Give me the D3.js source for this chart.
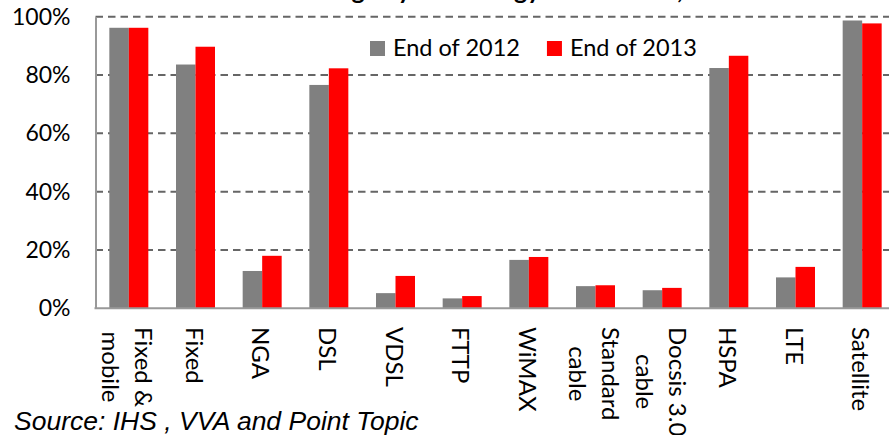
<!DOCTYPE html>
<html>
<head>
<meta charset="utf-8">
<script src="https://cdn.jsdelivr.net/npm/d3@7"></script>
<style>
  html, body { margin: 0; padding: 0; background: #fff; }
  svg { display: block; }
</style>
</head>
<body>
<svg id="chart" width="889" height="435"></svg>
<script>
// ---- data ----
const categories = [
  ["Fixed &", "mobile"], ["Fixed"], ["NGA"], ["DSL"], ["VDSL"], ["FTTP"],
  ["WiMAX"], ["Standard", "cable"], ["Docsis 3.0", "cable"], ["HSPA"], ["LTE"], ["Satellite"]
];
const seriesNames = ["End of 2012", "End of 2013"];
const end2012 = [0.962, 0.836, 0.128, 0.766, 0.052, 0.034, 0.166, 0.076, 0.062, 0.824, 0.106, 0.987];
const end2013 = [0.962, 0.897, 0.180, 0.823, 0.111, 0.042, 0.176, 0.079, 0.070, 0.866, 0.142, 0.977];
const yTicks = [0, 0.2, 0.4, 0.6, 0.8, 1.0];
const titleText = "Broadband coverage by technology in the EU27, end of 2012 and 2013";
const sourceText = "Source: IHS , VVA and Point Topic";

const colors = ["#808080", "#ff0000"];
const FONT = "Lato, 'Open Sans', sans-serif";

const svg = d3.select("#chart");
const W = 889, H = 435;
const plotLeft = 95.5, plotRight = 895.5, plotTop = 16.7, plotBottom = 308.3;

const keys = categories.map(c => c.join(" "));
const x = d3.scaleBand().domain(keys).range([plotLeft, plotRight])
  .paddingInner(0.415).paddingOuter(0.2075);
const x1 = d3.scaleBand().domain([0, 1]).range([0, x.bandwidth()]);
const y = d3.scaleLinear().domain([0, 1]).range([plotBottom, plotTop]);

// title (cut off at the top edge, as in the reference)
svg.append("text")
  .attr("x", 150).attr("y", -1)
  .attr("font-family", FONT).attr("font-weight", "bold").attr("font-size", 25)
  .attr("fill", "#000")
  .text(titleText);

// gridlines
svg.append("g").selectAll("line")
  .data(yTicks.filter(t => t > 0))
  .join("line")
  .attr("x1", plotLeft).attr("x2", W)
  .attr("y1", d => y(d)).attr("y2", d => y(d))
  .attr("stroke", "#666").attr("stroke-width", 2)
  .attr("stroke-dasharray", "7.5,5");

// bars
const data = keys.map((k, i) => ({ key: k, vals: [end2012[i], end2013[i]] }));
const groups = svg.append("g").selectAll("g")
  .data(data).join("g")
  .attr("transform", d => `translate(${x(d.key)},0)`);
groups.selectAll("rect")
  .data(d => d.vals.map((v, s) => ({ v, s })))
  .join("rect")
  .attr("x", d => x1(d.s))
  .attr("width", x1.bandwidth())
  .attr("y", d => y(d.v))
  .attr("height", d => y(0) - y(d.v))
  .attr("fill", d => colors[d.s]);

// axes
const yAxis = d3.axisLeft(y).tickValues(yTicks).tickFormat(d3.format(".0%")).tickSize(0).tickPadding(25);
const gy = svg.append("g").attr("transform", `translate(${plotLeft},0)`).call(yAxis);
gy.select(".domain").attr("stroke", "#999").attr("stroke-width", 2);
gy.selectAll("text").attr("font-family", FONT).attr("font-size", 23).attr("fill", "#000");

svg.append("line")
  .attr("x1", plotLeft - 1).attr("x2", W)
  .attr("y1", plotBottom).attr("y2", plotBottom)
  .attr("stroke", "#999").attr("stroke-width", 2);

// category labels (rotated 90deg, read top to bottom)
const labTop = 327;
const lh = 33;
const labG = svg.append("g");
categories.forEach((lines, i) => {
  const cx = x(keys[i]) + x.bandwidth() / 2;
  const t = labG.append("text")
    .attr("transform", `translate(${cx},${labTop}) rotate(90)`)
    .attr("font-family", FONT).attr("font-size", 24).attr("fill", "#000")
    .attr("dominant-baseline", "central");
  const n = lines.length;
  const tsp = lines.map((ln, j) => t.append("tspan")
    .attr("x", 0).attr("y", (j - (n - 1) / 2) * lh).text(ln));
  const lens = tsp.map(s => s.node().getComputedTextLength());
  const maxL = Math.max(...lens);
  tsp.forEach((s, j) => s.attr("x", (maxL - lens[j]) / 2));
});

// legend
const leg = svg.append("g");
let lx = 370;
seriesNames.forEach((name, s) => {
  leg.append("rect").attr("x", lx).attr("y", 41).attr("width", 15).attr("height", 15).attr("fill", colors[s]);
  const t = leg.append("text").attr("x", lx + 23).attr("y", 56)
    .attr("font-family", FONT).attr("font-size", 23.5).attr("fill", "#000").text(name);
  lx = lx + 23 + t.node().getComputedTextLength() + 27;
});

// source
svg.append("text")
  .attr("x", 14).attr("y", 430)
  .attr("font-family", "'Liberation Sans', Arial, sans-serif")
  .attr("font-style", "italic").attr("font-size", 26.5).attr("fill", "#000")
  .text(sourceText);
</script>
</body>
</html>
